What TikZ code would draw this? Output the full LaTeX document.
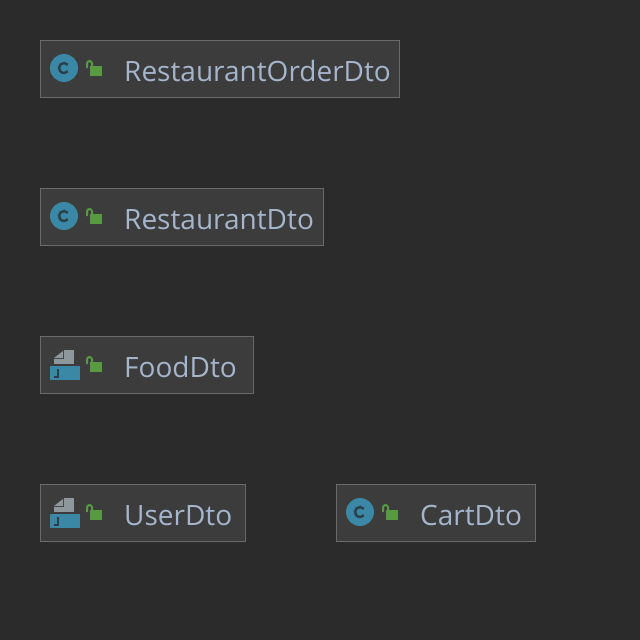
\documentclass[tikz,border=0pt]{standalone}
\usepackage{fontspec}
\setmainfont{Open Sans}
\usetikzlibrary{positioning}
\definecolor{canvasbg}{HTML}{2B2B2B}
\definecolor{boxfill}{HTML}{3C3C3C}
\definecolor{boxline}{HTML}{6A6A6A}
\definecolor{dtotext}{HTML}{A5B6CC}
\definecolor{iconblue}{HTML}{3B88A6}
\definecolor{icongray}{HTML}{8E979C}
\definecolor{icondark}{HTML}{2A3F4C}
\definecolor{lockgreen}{HTML}{589A42}
\begin{document}
\begin{tikzpicture}[x=1pt,y=-1pt,
  % one class box; the width is given per box
  dtobox/.style={rectangle, draw=boxline, fill=boxfill, line width=1pt,
                 minimum height=57pt, anchor=north west, inner sep=0pt, outer sep=0pt},
  dtolbl/.style={anchor=base west, font=\fontsize{28}{30}\selectfont, text=dtotext, inner sep=0pt},
  cicon/.pic={
    \fill[iconblue] (0,0) circle (14);
    \draw[icondark, line width=2.4pt] (3.8,-3.2) arc[start angle=-40, end angle=-320, radius=5];
  },
  jicon/.pic={
    \fill[icongray] (4,8) -- (13,1) -- (13,8) -- cycle;
    \fill[icongray] (4,9) rectangle (24,14);
    \fill[icongray] (14,0) rectangle (24,14);
    \fill[iconblue] (0,16) rectangle (30,30);
    \draw[icondark, line width=2pt] (8,19) -- (8,27) -- (4,27);
  },
  lockicon/.pic={
    \fill[lockgreen] (4,6) rectangle (16,16);
    \draw[lockgreen, line width=2pt] (1,8) -- (1,3.5) arc[start angle=180, end angle=360, radius=2.5] -- (6,6);
  },
]
\useasboundingbox (0,0) rectangle (640,640);
\fill[canvasbg] (0,0) rectangle (640,640);

% ================= left column =================
\node[dtobox, minimum width=359pt] (orderbox) at (40.5,40.5) {};
\node[dtolbl] (orderlbl) at (124,81) {RestaurantOrderDto};
\pic at (64,68) {cicon};
\pic at (86,60) {lockicon};

\node[dtobox, minimum width=283pt] (restaurantbox) at (40.5,188.5) {};
\node[dtolbl] (restaurantlbl) at (124,229) {RestaurantDto};
\pic at (64,216) {cicon};
\pic at (86,208) {lockicon};

\node[dtobox, minimum width=213pt] (foodbox) at (40.5,336.5) {};
\node[dtolbl] (foodlbl) at (124,377) {FoodDto};
\pic at (50,350) {jicon};
\pic at (86,356) {lockicon};

\node[dtobox, minimum width=205pt] (userbox) at (40.5,484.5) {};
\node[dtolbl] (userlbl) at (124,525) {UserDto};
\pic at (50,498) {jicon};
\pic at (86,504) {lockicon};

% ================= right column =================
\node[dtobox, minimum width=199pt] (cartbox) at (336.5,484.5) {};
\node[dtolbl] (cartlbl) at (420,525) {CartDto};
\pic at (360,512) {cicon};
\pic at (382,504) {lockicon};

\end{tikzpicture}
\end{document}
